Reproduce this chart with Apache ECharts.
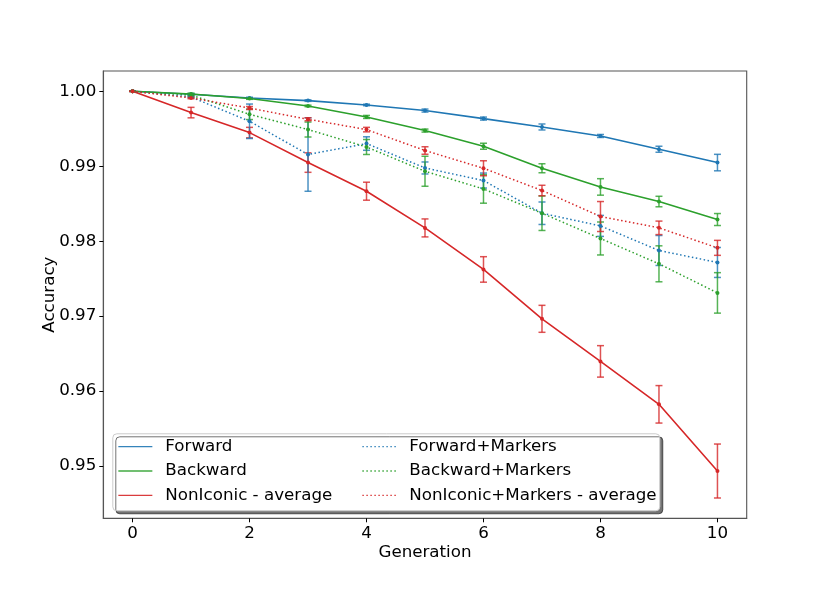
<!DOCTYPE html>
<html>
<head>
<meta charset="utf-8">
<script src="https://cdn.jsdelivr.net/npm/echarts@6/dist/echarts.min.js"></script>
<style>
  html, body { margin: 0; padding: 0; background: #fff; }
  #chart { width: 830px; height: 593px; }
</style>
</head>
<body>
<div id="chart"></div>
<script>
// generations on the x axis
var generations = [0, 1, 2, 3, 4, 5, 6, 7, 8, 9, 10];

// mean accuracy per generation
var forward      = [1.0, 0.9996, 0.99911, 0.99876, 0.99818, 0.99743, 0.99636, 0.99524, 0.99404, 0.99227, 0.99049];
var backward     = [1.0, 0.99965, 0.99903, 0.99805, 0.99658, 0.99476, 0.99267, 0.98973, 0.98724, 0.98529, 0.98289];
var nonIconic    = [1.0, 0.99716, 0.99449, 0.99049, 0.98667, 0.98177, 0.97623, 0.96964, 0.96396, 0.95823, 0.94933];
var forwardM     = [1.0, 0.99924, 0.996, 0.99156, 0.99303, 0.98977, 0.98809, 0.98373, 0.98204, 0.97876, 0.97716];
var backwardM    = [1.0, 0.9995, 0.99693, 0.9949, 0.99257, 0.98933, 0.98697, 0.98373, 0.98036, 0.97698, 0.9731];
var nonIconicM   = [1.0, 0.99911, 0.99777, 0.99627, 0.99489, 0.9921, 0.98973, 0.98676, 0.98329, 0.98178, 0.97911];

// half length of the error bars
var forwardErr    = [0, 0.0001, 0.0001, 0.0001, 0.0001, 0.0002, 0.0002, 0.0004, 0.0002, 0.0004, 0.0011];
var backwardErr   = [0, 0.0001, 0.0001, 0.0001, 0.0002, 0.0002, 0.0004, 0.0006, 0.0011, 0.0007, 0.0008];
var nonIconicErr  = [0, 0.0007, 0.0007, 0.0013, 0.0012, 0.0012, 0.0017, 0.0018, 0.0021, 0.0025, 0.0036];
var forwardMErr   = [0, 0.0001, 0.0023, 0.0049, 0.0009, 0.0008, 0.001, 0.0015, 0.0014, 0.002, 0.002];
var backwardMErr  = [0, 0.0001, 0.0007, 0.001, 0.001, 0.002, 0.0019, 0.0023, 0.0022, 0.0024, 0.0027];
var nonIconicMErr = [0, 0.0001, 0.0002, 0.0002, 0.0003, 0.0005, 0.001, 0.0007, 0.002, 0.0009, 0.001];

// tick labels
var xTicks = [0, 2, 4, 6, 8, 10];
var yTicks = [0.95, 0.96, 0.97, 0.98, 0.99, 1.00];

var BLUE = '#1f77b4', GREEN = '#2ca02c', RED = '#d62728';
var FONT = 'DejaVu Sans';

var myChart = echarts.init(document.getElementById('chart'), null, {renderer: 'canvas'});

function pairs(vals, errs) {
    return generations.map(function (g, i) { return [g, vals[i], errs[i]]; });
}

function lineSeries(name, vals, color, dotted) {
    return {
        name: name,
        type: 'line',
        data: generations.map(function (g, i) { return [g, vals[i]]; }),
        symbol: 'circle',
        symbolSize: 4,
        showSymbol: true,
        itemStyle: {color: color},
        lineStyle: {color: color, width: dotted ? 1.5 : 1.6, type: dotted ? [1.5, 2.5] : 'solid'},
        animation: false
    };
}

function errSeries(name, vals, errs, color) {
    return {
        name: name,
        type: 'custom',
        data: pairs(vals, errs),
        animation: false,
        silent: true,
        renderItem: function (params, api) {
            var x = api.value(0), y = api.value(1), e = api.value(2);
            var top = api.coord([x, y + e]);
            var bot = api.coord([x, y - e]);
            var w = 3.5;
            var st = {stroke: color, lineWidth: 1.5, opacity: 0.8};
            return {
                type: 'group',
                children: [
                    {type: 'line', shape: {x1: top[0], y1: top[1], x2: bot[0], y2: bot[1]}, style: st},
                    {type: 'line', shape: {x1: top[0] - w, y1: top[1], x2: top[0] + w, y2: top[1]}, style: st},
                    {type: 'line', shape: {x1: bot[0] - w, y1: bot[1], x2: bot[0] + w, y2: bot[1]}, style: st}
                ]
            };
        }
    };
}

var legendCommon = {
    orient: 'vertical',
    padding: 0,
    itemWidth: 34,
    itemHeight: 14,
    itemGap: 7.3,
    itemStyle: {opacity: 0},
    lineStyle: {width: 1.3, opacity: 0.9},
    textStyle: {fontFamily: FONT, fontSize: 16.7, color: '#000', padding: [0, 0, 0, 8], lineHeight: 17}
};

var option = {
    backgroundColor: '#fff',
    animation: false,
    grid: {left: 103.3, right: 83.3, top: 71, bottom: 74.7, show: true, borderColor: '#555', borderWidth: 1.1, backgroundColor: 'transparent'},
    xAxis: {
        type: 'value',
        min: -0.5,
        max: 10.5,
        name: 'Generation',
        nameLocation: 'middle',
        nameGap: 26,
        nameMoveOverlap: false,
        nameTextStyle: {fontFamily: FONT, fontSize: 16.7, color: '#000'},
        axisLine: {show: true, onZero: false, lineStyle: {color: '#555', width: 1.1}},
        axisTick: {show: true, length: 4, lineStyle: {color: '#000', width: 1}, customValues: xTicks},
        axisLabel: {fontFamily: FONT, fontSize: 16.7, color: '#000', margin: 7, customValues: xTicks},
        splitLine: {show: false}
    },
    yAxis: {
        type: 'value',
        min: 0.94302,
        max: 1.00271,
        name: 'Accuracy',
        nameLocation: 'middle',
        nameGap: 45,
        nameMoveOverlap: false,
        nameTextStyle: {fontFamily: FONT, fontSize: 16.7, color: '#000'},
        axisLine: {show: true, onZero: false, lineStyle: {color: '#555', width: 1.1}},
        axisTick: {show: true, length: 4, lineStyle: {color: '#000', width: 1}, customValues: yTicks},
        axisLabel: {fontFamily: FONT, fontSize: 16.7, color: '#000', margin: 7, customValues: yTicks,
            formatter: function (v) { return v.toFixed(2); }},
        splitLine: {show: false}
    },
    graphic: [{
        type: 'rect',
        left: 112.3, top: 433.3,
        shape: {width: 547, height: 77, r: 4},
        style: {fill: '#fff', stroke: '#ccc', lineWidth: 1,
            shadowColor: 'rgba(0,0,0,0.55)', shadowOffsetX: 3, shadowOffsetY: 3, shadowBlur: 0},
        z: 50
    }],
    legend: [
        Object.assign({}, legendCommon, {left: 117.7, top: 438.2, data: ['Forward', 'Backward', 'NonIconic - average'], z: 60}),
        Object.assign({}, legendCommon, {left: 361.7, top: 438.2, data: ['Forward+Markers', 'Backward+Markers', 'NonIconic+Markers - average'], z: 60})
    ],
    series: [
        lineSeries('Forward', forward, BLUE, false),
        errSeries('Forward', forward, forwardErr, BLUE),
        lineSeries('Backward', backward, GREEN, false),
        errSeries('Backward', backward, backwardErr, GREEN),
        lineSeries('NonIconic - average', nonIconic, RED, false),
        errSeries('NonIconic - average', nonIconic, nonIconicErr, RED),
        lineSeries('Forward+Markers', forwardM, BLUE, true),
        errSeries('Forward+Markers', forwardM, forwardMErr, BLUE),
        lineSeries('Backward+Markers', backwardM, GREEN, true),
        errSeries('Backward+Markers', backwardM, backwardMErr, GREEN),
        lineSeries('NonIconic+Markers - average', nonIconicM, RED, true),
        errSeries('NonIconic+Markers - average', nonIconicM, nonIconicMErr, RED)
    ]
};

myChart.setOption(option);
</script>
</body>
</html>
